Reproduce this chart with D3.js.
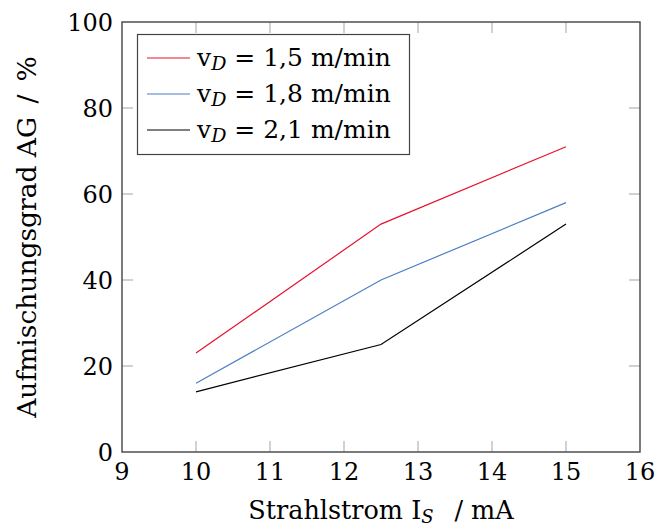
<!DOCTYPE html>
<html>
<head>
<meta charset="utf-8">
<script src="https://cdn.jsdelivr.net/npm/d3@7"></script>
<style>
  body { margin: 0; background: #fff; }
  svg text { font-family: "DejaVu Serif", "Liberation Serif", serif; fill: #000; }
</style>
</head>
<body>
<script>
const current = [10, 12.5, 15];
const vd15 = [23, 53, 71];
const vd18 = [16, 40, 58];
const vd21 = [14, 25, 53];
const seriesNames = ["1,5", "1,8", "2,1"];
const seriesColors = ["#e8112d", "#4a7fc4", "#000000"];
const xTicks = [9, 10, 11, 12, 13, 14, 15, 16];
const yTicks = [0, 20, 40, 60, 80, 100];

const width = 656, height = 529;
const margin = { top: 22, right: 16, bottom: 77, left: 122 };

const svg = d3.select("body").append("svg")
  .attr("width", width).attr("height", height);

const x = d3.scaleLinear().domain([9, 16]).range([margin.left, width - margin.right]);
const y = d3.scaleLinear().domain([0, 100]).range([height - margin.bottom, margin.top]);

const tickLen = 11;
const tickColor = "#b8b8b8";

// inner ticks on all four sides
const g = svg.append("g");
xTicks.slice(1, -1).forEach((t) => {
  g.append("line").attr("x1", x(t)).attr("x2", x(t))
    .attr("y1", y(0)).attr("y2", y(0) - tickLen)
    .attr("stroke", tickColor).attr("stroke-width", 1.3);
  g.append("line").attr("x1", x(t)).attr("x2", x(t))
    .attr("y1", y(100)).attr("y2", y(100) + tickLen)
    .attr("stroke", tickColor).attr("stroke-width", 1.3);
});
yTicks.slice(1, -1).forEach((t) => {
  g.append("line").attr("x1", x(9)).attr("x2", x(9) + tickLen)
    .attr("y1", y(t)).attr("y2", y(t))
    .attr("stroke", tickColor).attr("stroke-width", 1.3);
  g.append("line").attr("x1", x(16)).attr("x2", x(16) - tickLen)
    .attr("y1", y(t)).attr("y2", y(t))
    .attr("stroke", tickColor).attr("stroke-width", 1.3);
});

// tick labels
svg.selectAll(".xlab").data(xTicks).enter().append("text")
  .attr("class", "xlab")
  .attr("x", (d) => x(d)).attr("y", y(0) + 28)
  .attr("text-anchor", "middle").attr("font-size", 24)
  .text((d) => d);

svg.selectAll(".ylab").data(yTicks).enter().append("text")
  .attr("class", "ylab")
  .attr("x", x(9) - 9).attr("y", (d) => y(d) + 8.5)
  .attr("text-anchor", "end").attr("font-size", 24)
  .text((d) => d);

// series lines
const line = d3.line().x((d) => x(d[0])).y((d) => y(d[1]));
[vd15, vd18, vd21].forEach((vals, i) => {
  svg.append("path")
    .datum(current.map((c, j) => [c, vals[j]]))
    .attr("d", line)
    .attr("fill", "none")
    .attr("stroke", seriesColors[i])
    .attr("stroke-width", 1.2);
});

// frame
svg.append("rect")
  .attr("x", x(9)).attr("y", y(100))
  .attr("width", x(16) - x(9)).attr("height", y(0) - y(100))
  .attr("fill", "none").attr("stroke", "#444").attr("stroke-width", 1.4);

// legend
const lg = svg.append("g");
lg.append("rect")
  .attr("x", 137.5).attr("y", 34.5).attr("width", 272).attr("height", 120)
  .attr("fill", "#fff").attr("stroke", "#444").attr("stroke-width", 1.2);
seriesNames.forEach((n, i) => {
  const ry = 58 + i * 36;
  lg.append("line").attr("x1", 147).attr("x2", 190)
    .attr("y1", ry).attr("y2", ry)
    .attr("stroke", seriesColors[i]).attr("stroke-width", 1.2);
  const t = lg.append("text").attr("x", 197).attr("y", ry + 8).attr("font-size", 25);
  t.append("tspan").text("v");
  t.append("tspan").attr("font-style", "italic").attr("font-size", 19)
    .attr("dy", 4).text("D");
  t.append("tspan").attr("dy", -4).text(" = " + n + " m/min");
});

// axis titles
const xt = svg.append("text")
  .attr("x", 381).attr("y", 519)
  .attr("text-anchor", "middle").attr("font-size", 25.5);
xt.append("tspan").text("Strahlstrom I");
xt.append("tspan").attr("font-style", "italic").attr("font-size", 18).attr("dy", 4).text("S");
xt.append("tspan").attr("dy", -4).attr("xml:space", "preserve").text("\u2002 / mA");

svg.append("text")
  .attr("transform", `translate(36, ${(y(0) + y(100)) / 2}) rotate(-90)`)
  .attr("text-anchor", "middle").attr("font-size", 26.5)
  .text("Aufmischungsgrad AG\u2002/\u2002%");
</script>
</body>
</html>
